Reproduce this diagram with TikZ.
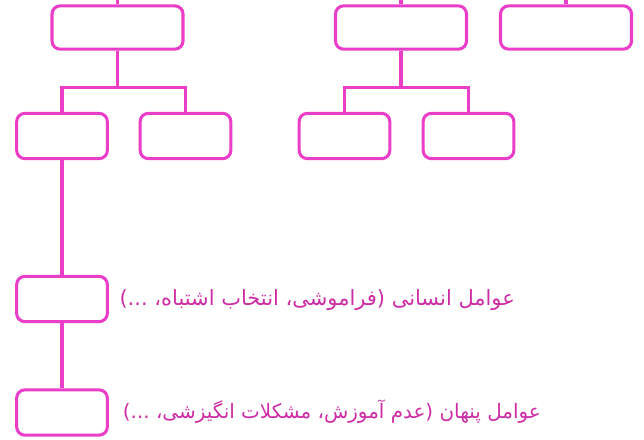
\documentclass[tikz,border=0pt]{standalone}
\usepackage{fontspec}
\usetikzlibrary{positioning}
\newfontfamily\arabicfont[Script=Arabic]{DejaVu Sans}
\TeXXeTstate=1
\definecolor{frame}{RGB}{234,62,200}
\definecolor{note}{RGB}{205,45,165}
\tikzset{
    box/.style={draw=frame, line width=2.6pt, rounded corners=7pt, fill=white},
    link/.style={draw=frame, line width=2.6pt},
    factor/.style={text=note, font=\arabicfont\fontsize{#1}{20}\selectfont, anchor=east, inner sep=0pt}
}

\begin{document}
\begin{tikzpicture}[x=0.03cm, y=-0.03cm]
    \useasboundingbox (0,0) rectangle (644,439);

    \foreach \n/\x in {A/117.5, B/401, C/566} {
        \node[box, minimum width=3.93cm, minimum height=1.3cm] (\n) at (\x, 27.5) {};
        \coordinate (top\n) at (\x, -3);
        \draw[link] (\n.north) -- (top\n);
    }
    \foreach \n/\x/\y in {D/62/136, E/185.5/136, F/344.5/136, G/468.5/136, H/62/299, I/62/412.5} {
        \node[box, minimum width=2.72cm, minimum height=1.36cm] (\n) at (\x, \y) {};
    }

    \draw[link] (A.south) -- ++(0,37) coordinate (splitA);
    \draw[link] (D.north) |- (splitA) -| (E.north);
    \draw[link] (B.south) -- ++(0,37) coordinate (splitB);
    \draw[link] (F.north) |- (splitB) -| (G.north);
    \draw[link] (D.south) -- (H.north);
    \draw[link] (H.south) -- (I.north);

    \node[factor=17.9] (human) at (515, 300) {\beginR عوامل انسانی (فراموشی، انتخاب اشتباه، ...)\endR};
    \node[factor=17.0] (hidden) at (541, 412) {\beginR عوامل پنهان (عدم آموزش، مشکلات انگیزشی، ...)\endR};
\end{tikzpicture}
\end{document}
